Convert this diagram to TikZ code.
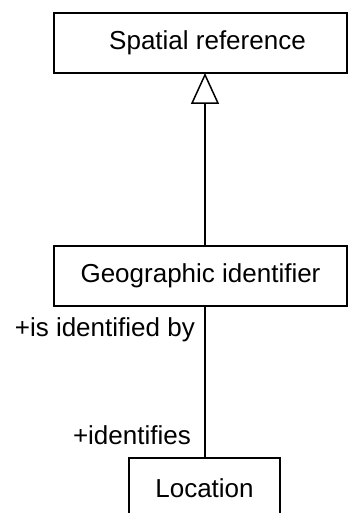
\documentclass[tikz,border=0pt]{standalone}
\usepackage{fontspec}
\setmainfont{Liberation Sans}
\usetikzlibrary{arrows.meta}
\begin{document}
\begin{tikzpicture}[x=1pt,y=-1pt,
  classbox/.style={draw,line width=1.5pt,inner sep=0pt,minimum height=60pt,font=\fontsize{26}{31}\selectfont},
  rolelabel/.style={inner sep=0pt,font=\fontsize{26}{31}\selectfont},
  generalization/.style={line width=1.5pt,-{Triangle[open,width=28pt,length=31pt,line width=1.5pt,fill=white]}},
  assoc/.style={line width=1.5pt}]
\useasboundingbox (0,0) rectangle (348,513);
\node[classbox,minimum width=293pt] (spatial) at (200.5,43) {\hspace*{14pt}Spatial reference};
\node[classbox,minimum width=293pt] (geo) at (200.5,276) {Geographic identifier};
\node[classbox,minimum width=151pt] (loc) at (204.5,488) {Location};
\coordinate (geotop) at (205,246);
\coordinate (geobot) at (205,306);
\coordinate (spatialbot) at (205,73);
\coordinate (loctop) at (205,458);
\draw[generalization] (geotop) -- (spatialbot);
\draw[assoc] (geobot) -- (loctop);
\node[rolelabel,anchor=east] (isid) at (195,330) {+is identified by};
\node[rolelabel,anchor=east] (ids) at (191,435) {+identifies};
\end{tikzpicture}
\end{document}
